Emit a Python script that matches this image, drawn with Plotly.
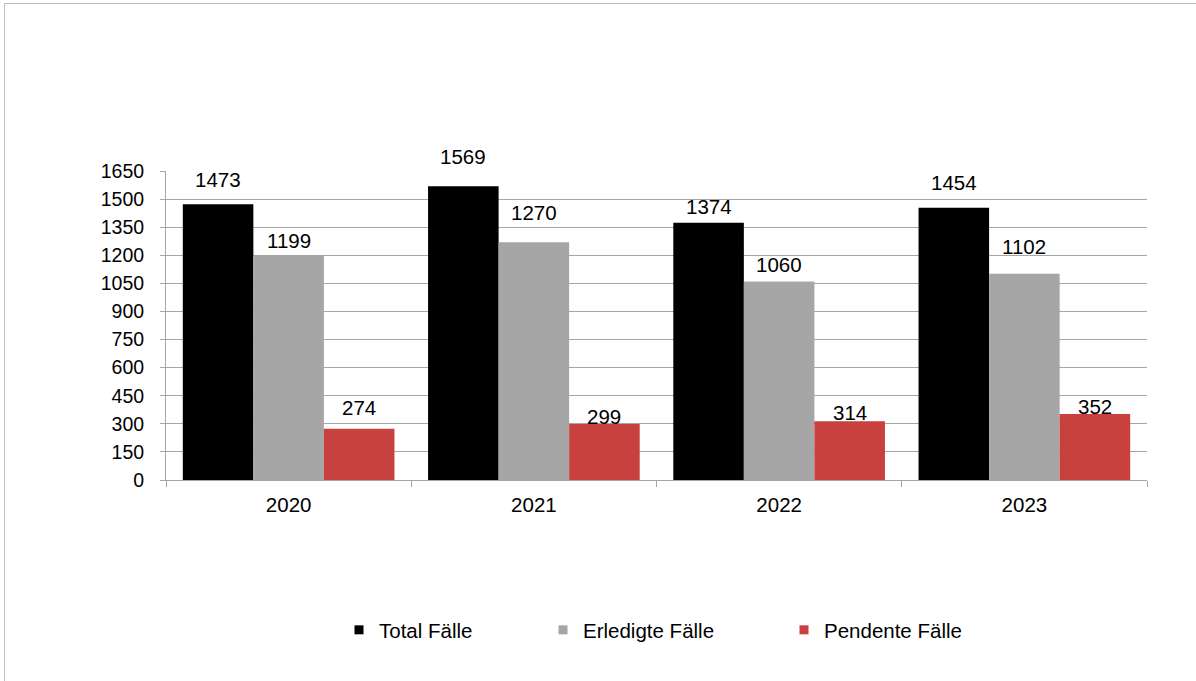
import plotly.graph_objects as go

years = ["2020", "2021", "2022", "2023"]
series_names = ["Total Fälle", "Erledigte Fälle", "Pendente Fälle"]
total = [1473, 1569, 1374, 1454]
erledigt = [1199, 1270, 1060, 1102]
pendent = [274, 299, 314, 352]
y_ticks = [0, 150, 300, 450, 600, 750, 900, 1050, 1200, 1350, 1500, 1650]

colors = ["#000000", "#A6A6A6", "#C9413E"]
# label vertical offsets (px) above bar tops, as placed in the original
label_offsets = [[25, 30, 16, 25], [15, 30, 17, 27], [21, 8, 9, 8]]

FONT = "Liberation Sans, Arial, sans-serif"
W, H = 1196, 681
L, R, T, B = 166, 49, 171, 201
pw, ph = W - L - R, H - T - B

fig = go.Figure()
all_vals = [total, erledigt, pendent]
legend_ids = ["legend", "legend2", "legend3"]
for i, (name, vals) in enumerate(zip(series_names, all_vals)):
    fig.add_trace(go.Bar(x=years, y=vals, name=name, marker_color=colors[i],
                         marker_line_width=0, showlegend=False))
# legend entries (small square swatches)
for i, name in enumerate(series_names):
    fig.add_trace(go.Scatter(x=[None], y=[None], mode="markers", name=name,
                             marker=dict(symbol="square", size=9, color=colors[i]),
                             legend=legend_ids[i], showlegend=True))

bar_px = pw / 4 * (1 - 0.137) / 3
for i, vals in enumerate(all_vals):
    for j, v in enumerate(vals):
        fig.add_annotation(x=j, y=v, text=str(v), showarrow=False,
                           xshift=(i - 1) * bar_px, yshift=label_offsets[i][j],
                           yanchor="middle", font=dict(size=20.5, color="#000000", family=FONT))

def px2x(px):
    return (px - L) / pw

def px2y(py):
    return (H - B - py) / ph

# outer chart frame
fig.add_shape(type="rect", xref="paper", yref="paper",
              x0=px2x(4.5), x1=px2x(1205), y0=px2y(690), y1=px2y(3.5),
              line=dict(color="#BFBFBF", width=1), fillcolor="rgba(0,0,0,0)", layer="below")

leg_common = dict(orientation="h", yanchor="middle", xanchor="left", bgcolor="rgba(0,0,0,0)",
                  font=dict(size=20.5, family=FONT, color="#000000"), itemwidth=30)
fig.update_layout(
    width=W, height=H,
    showlegend=True,
    margin=dict(l=L, r=R, t=T, b=B, autoexpand=False),
    paper_bgcolor="white", plot_bgcolor="white",
    barmode="group", bargap=0.137, bargroupgap=0,
    font=dict(family=FONT, size=20, color="#000000"),
    legend=dict(x=px2x(339), y=px2y(630), **leg_common),
    legend2=dict(x=px2x(543), y=px2y(630), **leg_common),
    legend3=dict(x=px2x(784), y=px2y(630), **leg_common),
    xaxis=dict(type="category", range=[-0.5, 3.5], showline=True, linecolor="#A6A6A6", linewidth=1,
               ticks="outside", tickson="boundaries", ticklen=6, tickcolor="#A6A6A6",
               ticklabelstandoff=6,
               showgrid=False, tickfont=dict(size=20.5, family=FONT)),
    yaxis=dict(range=[0, 1650], tickvals=y_ticks, showline=True, linecolor="#A6A6A6",
               linewidth=1, ticks="outside", ticklen=5, tickcolor="#A6A6A6",
               ticklabelstandoff=12,
               showgrid=True, gridcolor="#A6A6A6", gridwidth=1, zeroline=False,
               tickfont=dict(size=19.5, family=FONT)),
)

fig.write_html("out.html", config={"displayModeBar": False},
               post_script="document.body.style.margin='0';")
